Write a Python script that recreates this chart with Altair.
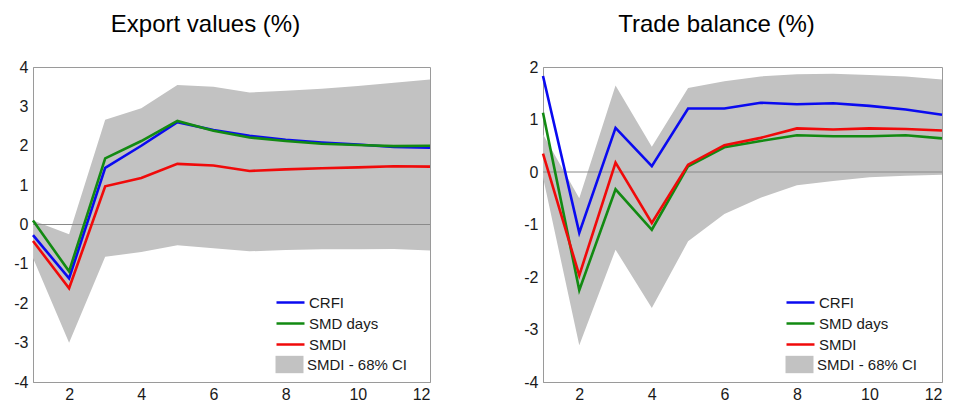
import altair as alt
import pandas as pd

# Horizon (months) of the impulse responses
months = list(range(1, 13))

# Export values (%)
exp_crfi = [-0.27, -1.37, 1.44, 2.0, 2.6, 2.4, 2.25, 2.15, 2.08, 2.03, 1.97, 1.95]
exp_smd_days = [0.1, -1.19, 1.68, 2.12, 2.63, 2.38, 2.21, 2.12, 2.05, 2.02, 1.99, 2.0]
exp_smdi = [-0.42, -1.62, 0.97, 1.18, 1.54, 1.5, 1.36, 1.4, 1.43, 1.45, 1.48, 1.47]
exp_ci_hi = [0.1, -0.25, 2.66, 2.95, 3.54, 3.5, 3.35, 3.4, 3.45, 3.52, 3.6, 3.68]
exp_ci_lo = [-0.85, -3.0, -0.82, -0.7, -0.53, -0.6, -0.68, -0.65, -0.63, -0.63, -0.62, -0.66]

# Trade balance (%)
tb_crfi = [1.83, -1.16, 0.84, 0.11, 1.21, 1.21, 1.32, 1.29, 1.31, 1.26, 1.19, 1.09]
tb_smd_days = [1.13, -2.25, -0.33, -1.1, 0.11, 0.47, 0.59, 0.7, 0.68, 0.68, 0.7, 0.64]
tb_smdi = [0.35, -1.97, 0.18, -0.97, 0.14, 0.51, 0.65, 0.83, 0.81, 0.83, 0.82, 0.79]
tb_ci_hi = [0.72, -0.5, 1.65, 0.48, 1.6, 1.73, 1.82, 1.86, 1.87, 1.85, 1.82, 1.76]
tb_ci_lo = [-0.1, -3.3, -1.48, -2.59, -1.32, -0.8, -0.49, -0.25, -0.17, -0.1, -0.07, -0.05]

series_names = ["CRFI", "SMD days", "SMDI"]
series_colors = ["#0a0af0", "#128a12", "#f00a0a"]
ci_name = "SMDI - 68% CI"

FONT = "Liberation Sans"
FRAME = "#9a9a9a"

# Legend swatches: long strokes / wide boxes drawn at a small nominal size so the
# legend rows stay compact
LINE_SWATCH = "M-2,0H2"
BOX_SWATCH = "M-2,-1.24H2V1.24H-2Z"


def panel(title, crfi, smd_days, smdi, ci_hi, ci_lo, y_domain, width):
    lines = pd.DataFrame({
        "month": months * 3,
        "value": crfi + smd_days + smdi,
        "series": [s for s in series_names for _ in months],
    })
    band = pd.DataFrame({"month": months, "hi": ci_hi, "lo": ci_lo, "band": ci_name})
    zero = pd.DataFrame({"y": [0]})

    x_axis = alt.Axis(values=[2, 4, 6, 8, 10, 12], title=None, grid=False,
                      ticks=False, labelPadding=4, domainColor=FRAME,
                      labelOverlap=False, labelFont=FONT, labelFontSize=16,
                      labelColor="#1a1a1a")
    x_scale = alt.Scale(domain=[1, 12], nice=False, zero=False)
    y_scale = alt.Scale(domain=y_domain, nice=False, zero=False)
    # plain hyphen for negative tick labels
    y_axis = alt.Axis(values=list(range(y_domain[0], y_domain[1] + 1)), title=None,
                      grid=False, ticks=False, labelPadding=5, domainColor=FRAME,
                      labelOverlap=False, labelFont=FONT, labelFontSize=16,
                      labelColor="#1a1a1a", labelExpr="'' + datum.value")

    area = alt.Chart(band).mark_area(opacity=1).encode(
        x=alt.X("month:Q", scale=x_scale, axis=x_axis),
        y=alt.Y("hi:Q", scale=y_scale, axis=y_axis),
        y2="lo:Q",
        fill=alt.Fill(
            "band:N",
            scale=alt.Scale(domain=[ci_name], range=["#c2c2c2"]),
            legend=alt.Legend(
                title=None, orient="none", legendX=249, legendY=290,
                symbolType=BOX_SWATCH, symbolSize=196,
                symbolStrokeWidth=0, symbolOpacity=1,
                labelFont=FONT, labelFontSize=15, labelColor="#1a1a1a",
                labelOffset=10, padding=0,
            ),
        ),
    )

    zero_line = alt.Chart(zero).mark_rule(color="#8a8a8a", strokeWidth=1).encode(
        y=alt.Y("y:Q", scale=y_scale, axis=y_axis)
    )

    curves = alt.Chart(lines).mark_line(strokeWidth=2.6).encode(
        x=alt.X("month:Q", scale=x_scale, axis=x_axis),
        y=alt.Y("value:Q", scale=y_scale, axis=y_axis),
        color=alt.Color(
            "series:N",
            scale=alt.Scale(domain=series_names, range=series_colors),
            legend=alt.Legend(
                title=None, orient="none", legendX=249, legendY=227,
                symbolType=LINE_SWATCH, symbolSize=196, symbolStrokeWidth=2.5,
                labelFont=FONT, labelFontSize=15, labelColor="#1a1a1a",
                labelOffset=10, rowPadding=4, padding=0,
            ),
        ),
        order=alt.Order("series_order:Q"),
    ).transform_calculate(
        series_order="indexof(['SMD days','CRFI','SMDI'], datum.series)"
    )

    return alt.layer(area, zero_line, curves).properties(
        width=width,
        height=315,
        title=alt.TitleParams(title, font=FONT, fontSize=24, fontWeight="normal",
                              color="#000000", dx=-26, offset=22, anchor="middle"),
    ).resolve_scale(color="independent", fill="independent")


left = panel("Export values (%)", exp_crfi, exp_smd_days, exp_smdi,
             exp_ci_hi, exp_ci_lo, [-4, 4], 397)
right = panel("Trade balance (%)", tb_crfi, tb_smd_days, tb_smdi,
              tb_ci_hi, tb_ci_lo, [-4, 2], 399)

chart = alt.hconcat(left, right, spacing=87).resolve_scale(
    color="independent", fill="independent", y="independent"
).resolve_legend(color="independent", fill="independent").configure_view(
    stroke=FRAME, strokeWidth=1
).properties(
    padding={"left": 13, "top": 12, "right": 5, "bottom": 2},
    background="white",
)

chart.save("out.html", embed_options={"renderer": "svg", "actions": False})
